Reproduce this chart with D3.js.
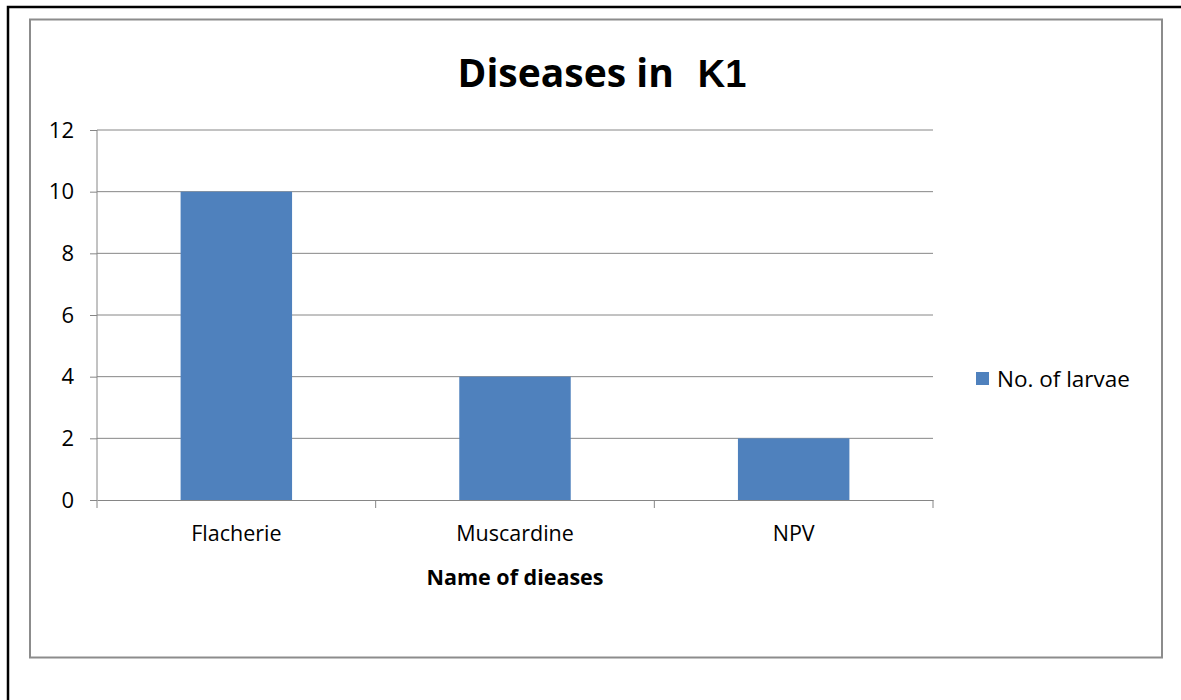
<!DOCTYPE html>
<html><head><meta charset="utf-8">
<script src="https://cdn.jsdelivr.net/npm/d3@7"></script>
<style>body{margin:0;background:#fff}</style>
</head><body>
<svg id="c" width="1181" height="700"></svg>
<script>
const categories = ["Flacherie", "Muscardine", "NPV"];
const values = [10, 4, 2];
const yTicks = [0, 2, 4, 6, 8, 10, 12];
const seriesName = "No. of larvae";
const titleMain = "Diseases in";
const titleTail = "K1";
const xTitle = "Name of dieases";

const svg = d3.select("#c");
const font = "'Open Sans', 'DejaVu Sans', sans-serif";

// outer frame
svg.append("path").attr("d", "M8,700 L8,7 L1181,7").attr("fill", "none").attr("stroke", "#000").attr("stroke-width", 2.5);
// chart area border
svg.append("rect").attr("x", 30).attr("y", 19.5).attr("width", 1132).attr("height", 638)
  .attr("fill", "#fff").attr("stroke", "#8c8c8c").attr("stroke-width", 2);

const pL = 97, pR = 933, pT = 130, pB = 500;
const x = d3.scaleBand().domain(categories).range([pL, pR]).paddingInner(0.6).paddingOuter(0.3);
const xb = d3.scaleBand().domain(categories).range([pL, pR]);
const y = d3.scaleLinear().domain([0, 12]).range([pB, pT]);

// gridlines
svg.append("g").selectAll("line").data(yTicks.filter(d => d > 0)).join("line")
  .attr("x1", pL).attr("x2", pR).attr("y1", d => y(d)).attr("y2", d => y(d))
  .attr("stroke", "#868686").attr("stroke-width", 1);

// bars
svg.append("g").selectAll("rect").data(values).join("rect")
  .attr("x", (d, i) => x(categories[i])).attr("width", x.bandwidth())
  .attr("y", d => y(d)).attr("height", d => y(0) - y(d))
  .attr("fill", "#4F81BD");

// y axis
const ya = svg.append("g").attr("transform", `translate(${pL},0)`)
  .call(d3.axisLeft(y).tickValues(yTicks).tickSize(7).tickPadding(16).tickFormat(d3.format("d")));
ya.select(".domain").attr("stroke", "#868686").attr("d", `M0,${pB}V${pT}`);
ya.selectAll(".tick line").attr("stroke", "#868686");
ya.selectAll(".tick text").attr("font-family", font).attr("font-size", 22).attr("fill", "#000");

// x axis
const xa = svg.append("g").attr("transform", `translate(0,${pB})`)
  .call(d3.axisBottom(xb).tickSize(0).tickPadding(26));
xa.select(".domain").attr("stroke", "#868686");
xa.selectAll(".tick text").attr("font-family", font).attr("font-size", 21.5).attr("fill", "#000");
svg.append("g").selectAll("line").data(d3.range(categories.length + 1)).join("line")
  .attr("x1", i => pL + i * xb.step()).attr("x2", i => pL + i * xb.step())
  .attr("y1", pB).attr("y2", pB + 8).attr("stroke", "#868686");

// x title
svg.append("text").attr("x", (pL + pR) / 2).attr("y", 585).attr("text-anchor", "middle")
  .attr("font-family", font).attr("font-weight", "bold").attr("font-size", 21.5).text(xTitle);

// title
const t = svg.append("text").attr("x", 602).attr("y", 87).attr("text-anchor", "middle")
  .attr("font-family", font).attr("font-weight", "bold").attr("font-size", 39);
t.append("tspan").text(titleMain);
t.append("tspan").attr("dx", 24).attr("font-family", "'Liberation Sans', Arial, sans-serif").attr("font-size", 38).text(titleTail);

// legend
svg.append("rect").attr("x", 976).attr("y", 372).attr("width", 13).attr("height", 13).attr("fill", "#4F81BD");
svg.append("text").attr("x", 997).attr("y", 387).attr("font-family", font).attr("font-size", 22.5).text(seriesName);
</script>
</body></html>
